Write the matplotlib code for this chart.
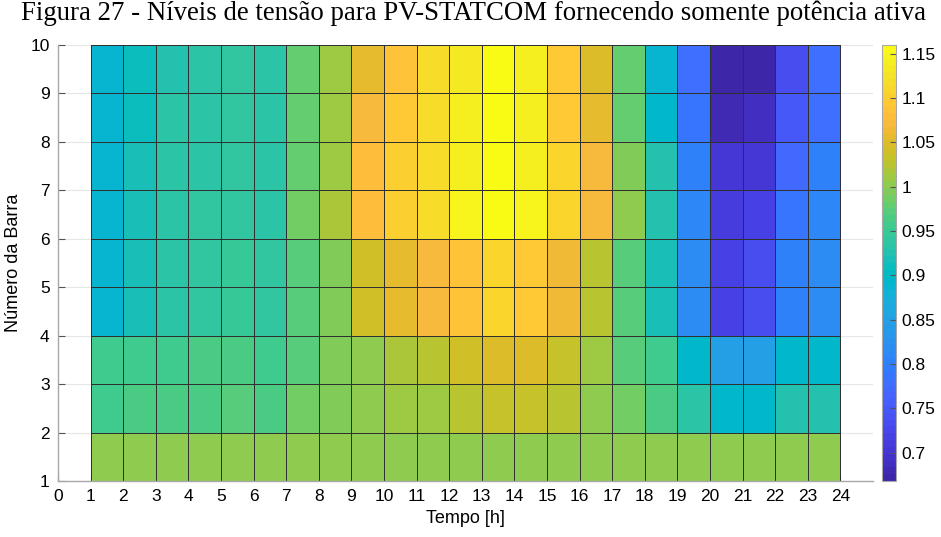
import numpy as np
import matplotlib
matplotlib.use("Agg")
import matplotlib.pyplot as plt
from matplotlib.colors import ListedColormap

# Data: voltage levels per bus row (bus b -> cell from b to b+1), hours 1..23
hours = list(range(1, 25))
buses = list(range(1, 11))
bus1 = [1.003] * 23
bus2 = [0.958, 0.962, 0.965, 0.967, 0.968, 0.965, 0.985, 0.995, 1.000, 1.008, 1.013, 1.022,
        1.030, 1.030, 1.025, 1.005, 0.985, 0.965, 0.930, 0.895, 0.895, 0.928, 0.928]
bus3 = [0.955, 0.958, 0.960, 0.962, 0.962, 0.958, 0.970, 0.995, 1.005, 1.015, 1.025, 1.040,
        1.048, 1.048, 1.030, 1.010, 0.970, 0.955, 0.895, 0.850, 0.852, 0.893, 0.893]
bus4 = [0.890, 0.920, 0.937, 0.940, 0.945, 0.940, 0.973, 0.995, 1.043, 1.058, 1.074, 1.090,
        1.113, 1.098, 1.062, 1.025, 0.973, 0.918, 0.817, 0.720, 0.730, 0.800, 0.817]
bus5 = [0.890, 0.920, 0.937, 0.940, 0.945, 0.940, 0.973, 0.995, 1.043, 1.058, 1.074, 1.090,
        1.113, 1.098, 1.062, 1.025, 0.973, 0.918, 0.817, 0.720, 0.730, 0.800, 0.817]
bus6 = [0.890, 0.918, 0.935, 0.940, 0.942, 0.937, 0.985, 1.015, 1.082, 1.100, 1.120, 1.145,
        1.156, 1.145, 1.110, 1.070, 1.005, 0.925, 0.810, 0.710, 0.715, 0.785, 0.810]
bus7 = [0.888, 0.915, 0.932, 0.937, 0.940, 0.935, 0.983, 1.012, 1.078, 1.100, 1.118, 1.140,
        1.155, 1.140, 1.108, 1.068, 0.995, 0.925, 0.800, 0.700, 0.703, 0.770, 0.800]
bus8 = [0.887, 0.913, 0.930, 0.935, 0.938, 0.932, 0.983, 1.010, 1.075, 1.092, 1.115, 1.138,
        1.155, 1.140, 1.095, 1.060, 0.983, 0.893, 0.790, 0.683, 0.690, 0.746, 0.780]
bus9 = [0.887, 0.912, 0.928, 0.933, 0.938, 0.930, 0.980, 1.008, 1.060, 1.090, 1.116, 1.135,
        1.155, 1.140, 1.096, 1.050, 0.980, 0.890, 0.776, 0.670, 0.675, 0.735, 0.776]
cbar_ticks = [0.7, 0.75, 0.8, 0.85, 0.9, 0.95, 1.0, 1.05, 1.1, 1.15]
cbar_labels = ["0.7", "0.75", "0.8", "0.85", "0.9", "0.95", "1", "1.05", "1.1", "1.15"]
vmin, vmax = 0.668, 1.160

parula_data = [
[0.2422,0.1504,0.6603],[0.2504,0.1650,0.7076],[0.2578,0.1818,0.7511],[0.2647,0.1978,0.7952],
[0.2706,0.2147,0.8364],[0.2751,0.2342,0.8710],[0.2783,0.2559,0.8991],[0.2803,0.2782,0.9221],
[0.2813,0.3006,0.9414],[0.2810,0.3228,0.9579],[0.2795,0.3447,0.9717],[0.2760,0.3667,0.9829],
[0.2699,0.3892,0.9906],[0.2602,0.4123,0.9952],[0.2440,0.4358,0.9988],[0.2206,0.4603,0.9973],
[0.1963,0.4847,0.9892],[0.1834,0.5074,0.9798],[0.1786,0.5289,0.9682],[0.1764,0.5499,0.9520],
[0.1687,0.5703,0.9359],[0.1540,0.5902,0.9218],[0.1460,0.6091,0.9079],[0.1380,0.6276,0.8973],
[0.1248,0.6459,0.8883],[0.1113,0.6635,0.8763],[0.0952,0.6798,0.8598],[0.0689,0.6948,0.8394],
[0.0297,0.7082,0.8163],[0.0036,0.7203,0.7917],[0.0067,0.7312,0.7660],[0.0433,0.7411,0.7394],
[0.0964,0.7500,0.7120],[0.1408,0.7584,0.6842],[0.1717,0.7670,0.6554],[0.1938,0.7758,0.6251],
[0.2161,0.7843,0.5923],[0.2470,0.7918,0.5567],[0.2906,0.7973,0.5188],[0.3406,0.8008,0.4789],
[0.3909,0.8029,0.4354],[0.4456,0.8024,0.3909],[0.5044,0.7993,0.3480],[0.5616,0.7942,0.3045],
[0.6174,0.7876,0.2612],[0.6720,0.7793,0.2227],[0.7242,0.7698,0.1910],[0.7738,0.7598,0.1646],
[0.8203,0.7498,0.1535],[0.8634,0.7406,0.1596],[0.9035,0.7330,0.1774],[0.9393,0.7288,0.2100],
[0.9728,0.7298,0.2394],[0.9956,0.7434,0.2371],[0.9970,0.7659,0.2199],[0.9952,0.7893,0.2028],
[0.9892,0.8136,0.1885],[0.9786,0.8386,0.1766],[0.9676,0.8639,0.1643],[0.9610,0.8890,0.1537],
[0.9597,0.9135,0.1423],[0.9628,0.9373,0.1265],[0.9691,0.9606,0.1064],[0.9769,0.9839,0.0805]]
parula = ListedColormap(parula_data, name="parula")

Z = np.array([bus1, bus2, bus3, bus4, bus5, bus6, bus7, bus8, bus9])

fig = plt.figure(figsize=(9.41, 5.37), dpi=100)
ax = fig.add_axes([0.0616, 0.1043, 0.8661, 0.8119])
cax = fig.add_axes([0.9375, 0.1043, 0.0150, 0.8119])

mesh = ax.pcolormesh(hours, buses, Z, cmap=parula, vmin=vmin, vmax=vmax,
                     edgecolors="#303030", linewidth=0.55, zorder=2)
ax.set_xlim(0, 25)
ax.set_ylim(1, 10)
ax.set_xticks(range(0, 25))
ax.set_yticks(range(1, 11))
ax.grid(axis="y", color="#e6e6e6", linewidth=0.8, zorder=0)
ax.set_axisbelow(True)
for s in ["top", "right"]:
    ax.spines[s].set_visible(False)
for s in ["left", "bottom"]:
    ax.spines[s].set_color("#a8a8a8")
    ax.spines[s].set_linewidth(1.0)
ax.tick_params(direction="in", length=5, color="#555555", labelsize=12.5, pad=6)
for lab in ax.get_xticklabels() + ax.get_yticklabels():
    lab.set_fontfamily("Liberation Sans")
ax.set_xlabel("Tempo [h]", fontsize=13, family="Liberation Sans", labelpad=4)
ax.set_ylabel("Número da Barra", fontsize=13, family="Liberation Sans", labelpad=6)

fig.suptitle("Figura 27 - Níveis de tensão para PV-STATCOM fornecendo somente potência ativa",
             x=0.503, y=1.0, fontsize=19.3, family="Liberation Serif", va="top")

cb = fig.colorbar(mesh, cax=cax)
cb.set_ticks(cbar_ticks)
cb.set_ticklabels(cbar_labels)
cb.outline.set_edgecolor("#a8a8a8")
cax.tick_params(direction="in", length=4, color="#555555", labelsize=12.5, pad=4)
for lab in cax.get_yticklabels():
    lab.set_fontfamily("Liberation Sans")

fig.savefig("out.png", dpi=100)
